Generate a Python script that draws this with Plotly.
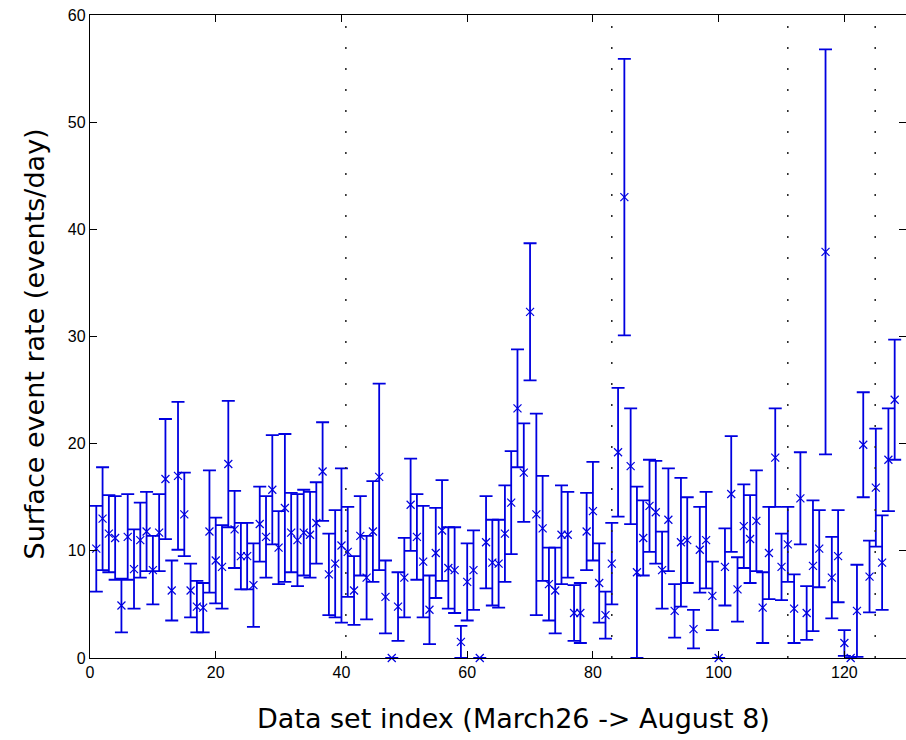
import plotly.graph_objects as go

# Data set index 1..128
idx = list(range(1, 129))

rate = [
    10.2, 13.0, 11.6, 11.2, 4.9, 11.3, 8.3, 11.0, 11.8, 8.2,
    11.7, 16.7, 6.3, 17.0, 13.4, 6.3, 4.8, 4.7, 11.8, 9.1,
    8.5, 18.1, 12.0, 9.5, 9.5, 6.8, 12.5, 11.3, 15.7, 10.3,
    14.0, 11.7, 11.0, 11.7, 11.5, 12.6, 17.4, 7.8, 8.8, 10.5,
    9.9, 6.3, 11.4, 7.5, 11.8, 16.9, 5.7, 0.0, 4.8, 7.5,
    14.3, 11.3, 9.0, 4.5, 9.8, 11.9, 8.4, 8.2, 1.5, 7.1,
    8.2, 0.0, 10.8, 8.9, 8.8, 11.6, 14.5, 23.3, 17.3, 32.3,
    13.4, 12.1, 6.9, 6.3, 11.5, 11.5, 4.2, 4.2, 11.8, 13.7,
    7.0, 4.0, 8.8, 19.2, 43.0, 17.9, 8.0, 11.2, 14.2, 13.6,
    8.2, 12.9, 4.4, 10.8, 11.0, 2.7, 10.1, 11.0, 5.8, 0.0,
    8.5, 15.3, 6.4, 12.3, 11.1, 12.8, 4.7, 9.8, 18.7, 8.5,
    10.6, 4.6, 14.9, 4.2, 8.6, 10.2, 37.9, 7.5, 9.5, 1.4,
    0.0, 4.4, 19.9, 7.6, 15.9, 8.9, 18.5, 24.1,
]

rate_err = [
    4.0, 4.8, 3.6, 3.9, 2.5, 4.0, 3.7, 3.5, 3.7, 3.2,
    3.6, 5.6, 2.8, 6.9, 3.9, 2.5, 2.4, 2.3, 5.7, 4.0,
    3.9, 5.9, 3.6, 3.1, 3.1, 3.9, 3.5, 3.8, 5.1, 3.4,
    6.9, 3.7, 4.3, 4.0, 4.0, 3.8, 4.6, 3.8, 5.0, 7.2,
    4.2, 3.2, 3.7, 3.9, 4.7, 8.7, 3.4, None, 3.2, 3.7,
    4.3, 4.0, 5.2, 3.2, 4.2, 4.7, 3.8, 4.0, 1.5, 3.6,
    3.7, None, 4.3, 4.0, 4.1, 4.5, 4.8, 5.5, 4.6, 6.4,
    9.4, 4.9, 3.4, 4.0, 4.6, 4.0, 2.6, 2.8, 3.6, 4.6,
    3.7, 2.2, 3.8, 6.0, 12.9, 5.4, 8.0, 3.5, 4.3, 4.8,
    3.6, 4.8, 2.5, 6.0, 4.0, 1.8, 4.0, 4.5, 3.2, None,
    3.6, 5.4, 3.0, 3.9, 4.1, 4.7, 3.3, 4.3, 4.6, 3.1,
    3.5, 3.2, 4.3, 2.5, 6.1, 3.6, 18.9, 3.8, 4.3, 1.2,
    None, 4.3, 4.9, 3.35, 5.5, 4.4, 4.8, 5.6,
]

# Dotted separators between data-taking periods
separators = [40.7, 83.0, 111.0, 124.9]

x_ticks = [0, 20, 40, 60, 80, 100, 120]
y_ticks = [0, 10, 20, 30, 40, 50, 60]

BLUE = "#0000e0"

fig = go.Figure()
fig.add_trace(go.Scatter(
    x=idx, y=rate, mode="markers",
    marker=dict(symbol="x-thin", size=8, color=BLUE,
                line=dict(color=BLUE, width=1.2)),
    error_y=dict(type="data", array=rate_err, visible=True,
                 color=BLUE, thickness=1.8, width=6.5),
    cliponaxis=False, showlegend=False,
))

for s in separators:
    fig.add_shape(type="line", xref="x", yref="paper", x0=s, x1=s, y0=0, y1=1,
                  line=dict(color="#222222", width=1.5, dash="2px,19px"))

axis_common = dict(
    showgrid=False, zeroline=False, showline=True, linecolor="black",
    linewidth=1.3, mirror="ticks", ticks="inside", ticklen=7,
    tickcolor="black", tickwidth=1,
    tickfont=dict(family="Liberation Sans, Arial, sans-serif", size=16, color="black"),
)

fig.update_layout(
    width=906, height=740,
    margin=dict(l=90, r=0, t=15, b=82),
    plot_bgcolor="white", paper_bgcolor="white",
    xaxis=dict(range=[0, 129.8], tickvals=x_ticks, **axis_common),
    yaxis=dict(range=[0, 60], tickvals=y_ticks, **axis_common),
    annotations=[
        dict(text="Data set index (March26 -> August 8)", xref="paper", yref="paper",
             x=0.5, y=0, xanchor="center", yanchor="middle", yshift=-60, xshift=15,
             showarrow=False,
             font=dict(family="DejaVu Sans, sans-serif", size=27, color="black")),
        dict(text="Surface event rate (events/day)", xref="paper", yref="paper",
             x=0, y=0.5, xanchor="center", yanchor="middle", xshift=-56, yshift=-8,
             textangle=-90, showarrow=False,
             font=dict(family="DejaVu Sans, sans-serif", size=27, color="black")),
    ],
)

fig.write_html("out.html")
